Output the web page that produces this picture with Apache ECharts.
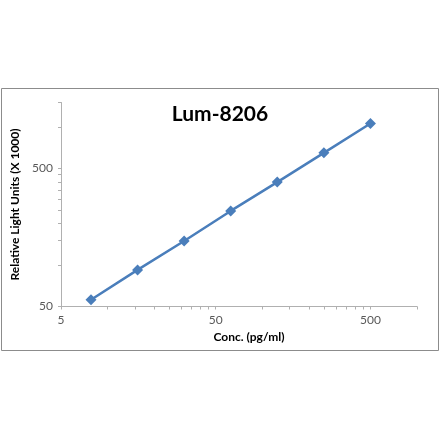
<!DOCTYPE html>
<html><head><meta charset="utf-8">
<script src="https://cdn.jsdelivr.net/npm/echarts@6/dist/echarts.min.js"></script>
<style>html,body{margin:0;padding:0;background:#fff}#c{width:440px;height:441px}</style>
</head><body><div id="c"></div>
<script>
const concentrations = [7.8125, 15.625, 31.25, 62.5, 125, 250, 500];
const rluValues = [55.9, 92, 149, 246, 398, 648, 1057];
const xLabelValues = [5, 50, 500];
const yLabelValues = [50, 500];
const xTickValues = [5,10,15,20,25,30,35,40,45,50,100,150,200,250,300,350,400,450,500,1000];
const yTickValues = [50,100,150,200,250,300,350,400,450,500,1000,1500];

const font = 'Lato, "Open Sans", sans-serif';
const chart = echarts.init(document.getElementById('c'), null, {renderer:'canvas'});
chart.setOption({
  animation: false,
  backgroundColor: '#fff',
  title: {
    text: 'Lum-8206', left: 'center', top: 99,
    textStyle: {fontFamily: font, fontWeight: 'bold', fontSize: 21, color: '#000'}
  },
  graphic: [{
    type: 'rect', shape: {x: 1.5, y: 88.5, width: 437, height: 262},
    style: {fill: 'none', stroke: '#8c8c8c', lineWidth: 1}, z: -1
  }],
  grid: {left: 61, right: 23, top: 102.5, bottom: 134.5},
  xAxis: [{
    type: 'log', logBase: 10, min: 5, max: 1000,
    name: 'Conc. (pg/ml)', nameLocation: 'middle', nameGap: 25,
    nameTextStyle: {fontFamily: font, fontWeight: 'bold', fontSize: 12, color: '#000', padding: [0,0,0,20]},
    axisLine: {lineStyle: {color: '#b0b0b0', width: 1}},
    axisTick: {show: true, customValues: xTickValues, length: 3, lineStyle: {color: '#b0b0b0'}},
    axisLabel: {customValues: xLabelValues, fontFamily: font, fontSize: 12, color: '#595959', margin: 8},
    splitLine: {show: false}
  }],
  yAxis: [{
    type: 'log', logBase: 10, min: 50, max: 1500,
    name: 'Relative Light Units (X 1000)', nameLocation: 'middle', nameGap: 37, nameRotate: 90,
    nameTextStyle: {fontFamily: font, fontWeight: 'bold', fontSize: 12, color: '#000'},
    axisLine: {show: true, lineStyle: {color: '#b0b0b0', width: 1}},
    axisTick: {show: true, customValues: yTickValues, length: 3, lineStyle: {color: '#b0b0b0'}},
    axisLabel: {customValues: yLabelValues, fontFamily: font, fontSize: 12, color: '#595959', margin: 8},
    splitLine: {show: false}
  }],
  series: [{
    type: 'line',
    data: concentrations.map((c, i) => [c, rluValues[i]]),
    symbol: 'diamond', symbolSize: 11,
    lineStyle: {color: '#4a7ebb', width: 2.5},
    itemStyle: {color: '#4a7ebb'}
  }]
});
</script></body></html>
